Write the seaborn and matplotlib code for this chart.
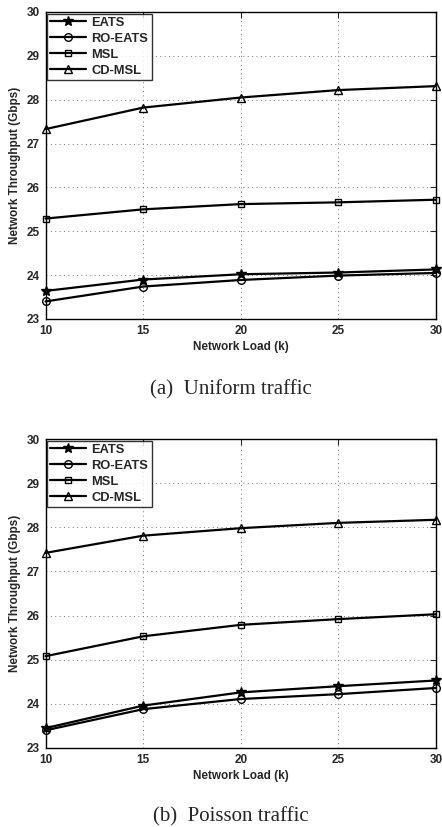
import numpy as np
import pandas as pd
import seaborn as sns
import matplotlib.pyplot as plt

# ------------------------------------------------------------------
# datos
# ------------------------------------------------------------------
carga = [10, 15, 20, 25, 30]
metodos = ['EATS', 'RO-EATS', 'MSL', 'CD-MSL']

uni_eats = [23.64, 23.90, 24.02, 24.06, 24.13]
uni_ro_eats = [23.40, 23.74, 23.89, 23.99, 24.05]
uni_msl = [25.29, 25.50, 25.62, 25.66, 25.72]
uni_cd_msl = [27.33, 27.82, 28.05, 28.22, 28.31]

poi_eats = [23.45, 23.96, 24.26, 24.40, 24.53]
poi_ro_eats = [23.40, 23.88, 24.11, 24.22, 24.36]
poi_msl = [25.08, 25.53, 25.79, 25.92, 26.03]
poi_cd_msl = [27.42, 27.81, 27.98, 28.10, 28.17]

captions = ['(a)  Uniform traffic', '(b)  Poisson traffic']

marcadores = {'EATS': '*', 'RO-EATS': 'o', 'MSL': 's', 'CD-MSL': '^'}
tam_marcador = {'EATS': 7.5, 'RO-EATS': 5.5, 'MSL': 5, 'CD-MSL': 6}


def armar_df(series):
    filas = []
    for metodo, valores in zip(metodos, series):
        for x, y in zip(carga, valores):
            filas.append({'carga': x, 'throughput': y, 'metodo': metodo})
    return pd.DataFrame(filas)


sns.set_style('white')
plt.rcParams['font.family'] = ['Liberation Sans', 'DejaVu Sans']
plt.rcParams['font.weight'] = 'bold'

fig = plt.figure(figsize=(4.42, 8.27), dpi=100)
W, H = 442.0, 827.0
# posiciones en pixeles: (izq, arriba, der, abajo)
paneles = [(45.5, 12, 436, 319), (45.5, 439, 436, 748)]
datos = [
    armar_df([uni_eats, uni_ro_eats, uni_msl, uni_cd_msl]),
    armar_df([poi_eats, poi_ro_eats, poi_msl, poi_cd_msl]),
]
caption_y = [394, 821]

for (x0, ytop, x1, ybot), df, cap, cy in zip(paneles, datos, captions, caption_y):
    ax = fig.add_axes([x0 / W, 1 - ybot / H, (x1 - x0) / W, (ybot - ytop) / H])
    for metodo in metodos:
        sub = df[df['metodo'] == metodo]
        relleno = 'black' if metodo == 'EATS' else 'none'
        sns.lineplot(data=sub, x='carga', y='throughput', ax=ax, color='black',
                     linewidth=1.6, marker=marcadores[metodo],
                     markersize=tam_marcador[metodo], mfc=relleno, mec='black',
                     mew=1.0, label=metodo, clip_on=False)

    ax.set_xlim(10, 30)
    ax.set_ylim(23, 30)
    ax.set_xticks(carga)
    ax.set_yticks(range(23, 31))
    ax.grid(True, linestyle=(0, (1, 3.5)), color='#777777', linewidth=0.7)
    ax.tick_params(axis='both', direction='in', top=True, right=True, length=4,
                   labelsize=8.5, width=0.8)
    ax.tick_params(axis='x', pad=4)
    ax.tick_params(axis='y', pad=4)
    for lbl in ax.get_xticklabels() + ax.get_yticklabels():
        lbl.set_fontweight('bold')
    for s in ax.spines.values():
        s.set_linewidth(1.0)
        s.set_color('black')
    ax.set_xlabel('Network Load (k)', fontsize=8.5, fontweight='bold', labelpad=3)
    ax.set_ylabel('Network Throughput (Gbps)', fontsize=8.5, fontweight='bold', labelpad=4)

    leg = ax.legend(loc='upper left', fontsize=9.3, frameon=True, fancybox=False,
                    edgecolor='black', borderpad=0.25, labelspacing=0.3,
                    handlelength=2.8, handletextpad=0.4, borderaxespad=0.12)
    leg.get_frame().set_linewidth(1.0)
    for t in leg.get_texts():
        t.set_fontweight('bold')

    fig.text(231 / W, 1 - cy / H, cap, ha='center', va='baseline',
             family=['Liberation Serif', 'DejaVu Serif'], fontsize=15,
             fontweight='normal')

fig.savefig('out.png', dpi=100)
